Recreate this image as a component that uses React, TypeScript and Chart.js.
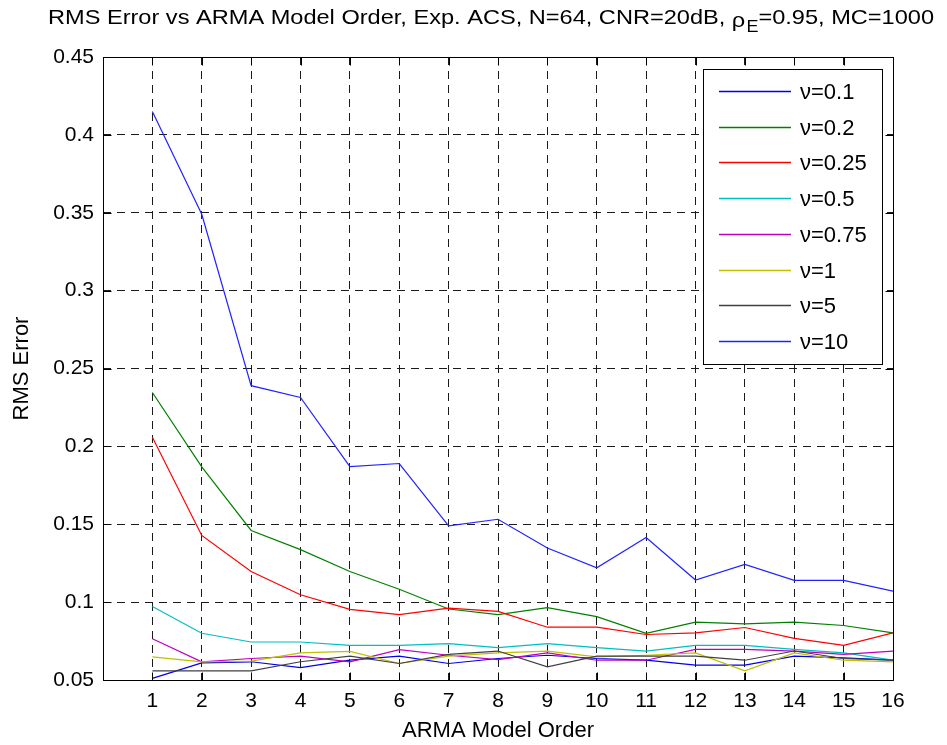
import React, { useEffect, useRef } from "react";
import { Chart, registerables } from "chart.js";

Chart.register(...registerables);

const orders = [1, 2, 3, 4, 5, 6, 7, 8, 9, 10, 11, 12, 13, 14, 15, 16];

const nu01 = [0.051, 0.061, 0.0617, 0.058, 0.0627, 0.0653, 0.0606, 0.0638, 0.0659, 0.0638, 0.0627, 0.0595, 0.0595, 0.0653, 0.0642, 0.0627];
const nu02 = [0.2346, 0.1868, 0.146, 0.1337, 0.1197, 0.1083, 0.0956, 0.092, 0.0964, 0.0907, 0.08, 0.0871, 0.086, 0.0871, 0.085, 0.0803];
const nu025 = [0.2058, 0.1428, 0.1197, 0.1047, 0.0953, 0.092, 0.0962, 0.0941, 0.0839, 0.0839, 0.0792, 0.0803, 0.0837, 0.0767, 0.0722, 0.0803];
const nu05 = [0.0972, 0.08, 0.0744, 0.0744, 0.0722, 0.0722, 0.0733, 0.0708, 0.0733, 0.0708, 0.0686, 0.0722, 0.0722, 0.0697, 0.0674, 0.0627];
const nu075 = [0.0765, 0.0617, 0.0638, 0.0653, 0.0617, 0.0695, 0.0659, 0.0631, 0.0674, 0.0627, 0.0627, 0.0697, 0.0697, 0.0686, 0.0665, 0.0686];
const nu1 = [0.0648, 0.0617, 0.0621, 0.0674, 0.0684, 0.0606, 0.0653, 0.0674, 0.0686, 0.0648, 0.0659, 0.0674, 0.0559, 0.0674, 0.0627, 0.0617];
const nu5 = [0.0559, 0.0559, 0.0559, 0.0617, 0.0653, 0.0606, 0.0665, 0.0686, 0.0585, 0.0653, 0.0653, 0.0653, 0.0627, 0.0686, 0.0638, 0.0627];
const nu10 = [0.415, 0.349, 0.239, 0.2314, 0.187, 0.189, 0.1489, 0.1532, 0.1347, 0.122, 0.1415, 0.1142, 0.1242, 0.114, 0.114, 0.107];

const seriesLabels = ["ν=0.1", "ν=0.2", "ν=0.25", "ν=0.5", "ν=0.75", "ν=1", "ν=5", "ν=10"];
const seriesValues = [nu01, nu02, nu025, nu05, nu075, nu1, nu5, nu10];
const seriesColors = ["#0000EE", "#008000", "#FF0000", "#00BFBF", "#BF00BF", "#BFBF00", "#404040", "#2222FF"];

const yTicks = [0.05, 0.1, 0.15, 0.2, 0.25, 0.3, 0.35, 0.4, 0.45];

const titleMain = "RMS Error vs ARMA Model Order, Exp. ACS, N=64, CNR=20dB, ";
const titleRho = "ρ";
const titleSub = "E";
const titleTail = "=0.95, MC=1000";
const xTitle = "ARMA Model Order";
const yTitle = "RMS Error";

const FONT = "'Liberation Sans', Arial, Helvetica, sans-serif";

const titlePlugin = {
  id: "matlabTitle",
  afterDraw(chart: any) {
    const ctx = chart.ctx as CanvasRenderingContext2D;
    ctx.save();
    ctx.fillStyle = "#000";
    ctx.textBaseline = "alphabetic";
    ctx.textAlign = "left";
    const big = `21px ${FONT}`;
    const small = `16px ${FONT}`;
    ctx.font = big;
    const w1 = ctx.measureText(titleMain).width;
    const w2 = ctx.measureText(titleRho).width + 1;
    const w4 = ctx.measureText(titleTail).width;
    ctx.font = small;
    const w3 = ctx.measureText(titleSub).width;
    const total = w1 + w2 + w3 + w4;
    const left = 48;
    const right = 934;
    const sx = (right - left) / total;
    ctx.translate(left, 24);
    ctx.scale(sx, 1);
    ctx.font = big;
    ctx.fillText(titleMain, 0, 0);
    ctx.fillText(titleRho, w1, 3);
    ctx.font = small;
    ctx.fillText(titleSub, w1 + w2, 8);
    ctx.font = big;
    ctx.fillText(titleTail, w1 + w2 + w3, 0);
    ctx.restore();
  },
};

const boxPlugin = {
  id: "matlabBox",
  afterDatasetsDraw(chart: any) {
    const ctx = chart.ctx as CanvasRenderingContext2D;
    const { left, right, top, bottom } = chart.chartArea;
    const xs = chart.scales.x;
    const ys = chart.scales.y;
    ctx.save();
    ctx.strokeStyle = "#000";
    ctx.lineWidth = 1;
    ctx.setLineDash([]);
    ctx.beginPath();
    const L = Math.round(left) + 0.5;
    const R = Math.round(right) + 0.5;
    const T = Math.round(top) + 0.5;
    const B = Math.round(bottom) + 0.5;
    ctx.rect(L, T, R - L, B - T);
    const tl = 8;
    orders.forEach((o) => {
      const px = Math.round(xs.getPixelForValue(o)) + 0.5;
      ctx.moveTo(px, B);
      ctx.lineTo(px, B - tl);
      ctx.moveTo(px, T);
      ctx.lineTo(px, T + tl);
    });
    yTicks.forEach((v) => {
      const py = Math.round(ys.getPixelForValue(v)) + 0.5;
      ctx.moveTo(L, py);
      ctx.lineTo(L + tl, py);
      ctx.moveTo(R, py);
      ctx.lineTo(R - tl, py);
    });
    ctx.stroke();
    ctx.restore();
  },
};

const legendPlugin = {
  id: "matlabLegend",
  afterDraw(chart: any) {
    const ctx = chart.ctx as CanvasRenderingContext2D;
    const bx = 703.5;
    const by = 69.5;
    const bw = 179;
    const bh = 295;
    ctx.save();
    ctx.fillStyle = "#fff";
    ctx.fillRect(bx, by, bw, bh);
    ctx.strokeStyle = "#000";
    ctx.lineWidth = 1;
    ctx.strokeRect(bx, by, bw, bh);
    ctx.font = `22px ${FONT}`;
    ctx.textBaseline = "middle";
    ctx.textAlign = "left";
    seriesLabels.forEach((lab, i) => {
      const y = Math.round(91 + i * 35.7) + 0.5;
      ctx.strokeStyle = seriesColors[i];
      ctx.lineWidth = 1.5;
      ctx.beginPath();
      ctx.moveTo(719, y);
      ctx.lineTo(791, y);
      ctx.stroke();
      ctx.fillStyle = "#000";
      ctx.fillText(lab, 800, y + 1);
    });
    ctx.restore();
  },
};

export default function App() {
  const ref = useRef<HTMLCanvasElement | null>(null);

  useEffect(() => {
    if (!ref.current) return;
    const n = seriesValues.length;
    const chart = new Chart(ref.current, {
      type: "line",
      data: {
        datasets: seriesValues.map((vals, i) => ({
          label: seriesLabels[i],
          data: vals.map((v, j) => ({ x: orders[j], y: v })),
          borderColor: seriesColors[i],
          backgroundColor: seriesColors[i],
          borderWidth: 1.2,
          pointRadius: 0,
          tension: 0,
          fill: false,
          order: n - i,
        })),
      },
      options: {
        responsive: false,
        animation: false,
        devicePixelRatio: 1,
        layout: { padding: { left: 0, top: 57, right: 54, bottom: 0 } },
        plugins: {
          legend: { display: false },
          title: { display: false },
          tooltip: { enabled: false },
        },
        scales: {
          x: {
            type: "linear",
            min: 0,
            max: 16,
            afterFit: (s: any) => {
              s.height = 65;
            },
            afterBuildTicks: (s: any) => {
              s.ticks = [0, ...orders].map((v) => ({ value: v }));
            },
            ticks: {
              autoSkip: false,
              maxRotation: 0,
              padding: 9,
              color: "#000",
              font: { family: FONT, size: 21 },
              callback: (v: any) => (v === 0 ? "" : String(v)),
            },
            grid: { color: "#1a1a1a", lineWidth: 1, drawTicks: false },
            border: { display: false, dash: [8, 6] },
            title: {
              display: true,
              text: xTitle,
              color: "#000",
              font: { family: FONT, size: 22 },
              padding: { top: 0, bottom: 1 },
            },
          },
          y: {
            type: "linear",
            min: 0.05,
            max: 0.45,
            afterFit: (s: any) => {
              s.width = 103;
            },
            afterBuildTicks: (s: any) => {
              s.ticks = yTicks.map((v) => ({ value: v }));
            },
            ticks: {
              padding: 9,
              color: "#000",
              font: { family: FONT, size: 21 },
              callback: (v: any) => String(Number(Number(v).toFixed(2))),
            },
            grid: { color: "#1a1a1a", lineWidth: 1, drawTicks: false },
            border: { display: false, dash: [8, 6] },
            title: {
              display: true,
              text: yTitle,
              color: "#000",
              font: { family: FONT, size: 22 },
              padding: { top: 9, bottom: 0 },
            },
          },
        },
      },
      plugins: [titlePlugin, boxPlugin, legendPlugin],
    });
    return () => chart.destroy();
  }, []);

  return (
    <div style={{ position: "absolute", left: 0, top: 0, width: 947, height: 745, background: "#fff" }}>
      <canvas ref={ref} width={947} height={745} style={{ display: "block", width: 947, height: 745 }} />
    </div>
  );
}
